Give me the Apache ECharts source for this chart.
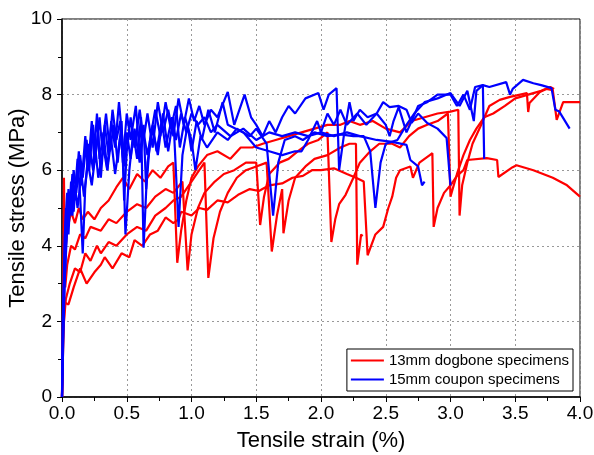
<!DOCTYPE html>
<html>
<head>
<meta charset="utf-8">
<script src="https://cdn.jsdelivr.net/npm/echarts@6/dist/echarts.min.js"></script>
<style>
  html, body { margin: 0; padding: 0; background: #fff; }
  #chart { width: 594px; height: 455px; }
</style>
</head>
<body>
<div id="chart"></div>
<script>
// tensile strain (%) vs tensile stress (MPa)
const xTicks = [0, 0.5, 1.0, 1.5, 2.0, 2.5, 3.0, 3.5, 4.0];
const yTicks = [0, 2, 4, 6, 8, 10];

const dogbone1 = [[0,0],[0.01,1.5],[0.02,2.5],[0.05,2.45],[0.09,2.9],[0.14,3.4],[0.19,3.0],[0.25,3.3],[0.3,3.5],[0.33,3.7],[0.39,3.4],[0.46,3.8],[0.52,3.7],[0.56,4.15],[0.62,4.0],[0.68,4.3],[0.74,4.4],[0.8,4.75],[0.86,4.6],[0.9,4.7],[0.92,4.9],[1.0,4.8],[1.06,5.0],[1.12,4.95],[1.2,5.2],[1.28,5.15],[1.36,5.35],[1.45,5.5],[1.52,5.45],[1.6,5.6],[1.7,5.65],[1.78,5.8],[1.86,5.85],[1.93,6.0],[2.0,6.0],[2.1,6.05],[2.2,5.9],[2.27,5.8],[2.33,5.7],[2.36,3.75],[2.42,4.3],[2.48,4.5],[2.52,5.0],[2.55,5.3],[2.58,5.8],[2.61,6.0],[2.69,6.1],[2.71,5.8],[2.76,6.2],[2.84,6.4],[2.86,6.45],[2.87,4.5],[2.9,5.0],[2.95,5.4],[3.0,5.6],[3.05,5.85],[3.1,6.0],[3.13,6.27],[3.28,6.32],[3.36,6.27],[3.37,5.82],[3.48,6.08],[3.51,6.13],[3.64,6.0],[3.79,5.8],[3.9,5.6],[4.0,5.3]];
const dogbone2 = [[0,0],[0.01,2.5],[0.02,3.6],[0.04,4.4],[0.07,4.9],[0.1,4.6],[0.13,5.0],[0.16,4.7],[0.2,4.9],[0.25,4.7],[0.3,5.0],[0.36,5.2],[0.42,5.55],[0.47,5.8],[0.52,5.5],[0.58,5.9],[0.64,5.7],[0.7,6.0],[0.76,5.8],[0.82,6.1],[0.86,6.2],[0.89,3.55],[0.92,4.4],[0.96,5.2],[1.0,5.8],[1.05,6.1],[1.12,6.4],[1.2,6.5],[1.3,6.3],[1.38,6.6],[1.47,6.6],[1.55,6.7],[1.65,6.8],[1.75,6.9],[1.85,7.0],[1.95,7.1],[2.05,7.2],[2.15,7.2],[2.22,7.3],[2.3,7.2],[2.4,7.3],[2.5,7.1],[2.61,7.0],[2.7,7.3],[2.8,7.4],[2.9,7.5],[3.0,7.55],[3.06,7.6],[3.07,4.8],[3.09,5.6],[3.13,6.2],[3.17,6.7],[3.23,7.15],[3.3,7.7],[3.38,7.86],[3.46,7.94],[3.59,8.04],[3.6,7.54],[3.61,7.78],[3.69,8.07],[3.74,8.15],[3.79,8.12],[3.82,7.33],[3.87,7.8],[4.0,7.8]];
const dogbone3 = [[0,0],[0.01,3.0],[0.015,5.8],[0.025,2.9],[0.04,3.5],[0.07,4.0],[0.1,3.9],[0.14,4.3],[0.18,4.2],[0.22,4.5],[0.3,4.4],[0.36,4.7],[0.42,4.6],[0.5,4.9],[0.58,5.1],[0.65,5.0],[0.72,5.3],[0.8,5.5],[0.86,5.4],[0.93,5.7],[0.97,3.35],[1.0,4.3],[1.05,5.0],[1.1,5.4],[1.18,5.7],[1.25,5.9],[1.33,6.0],[1.42,6.2],[1.5,6.2],[1.53,4.55],[1.56,5.3],[1.6,5.9],[1.68,6.2],[1.75,6.3],[1.82,6.5],[1.9,6.7],[1.98,6.8],[2.05,7.0],[2.08,4.1],[2.11,4.7],[2.14,5.1],[2.19,5.35],[2.25,5.8],[2.3,6.2],[2.38,6.5],[2.45,6.7],[2.55,6.7],[2.61,6.6],[2.68,6.9],[2.75,7.1],[2.82,7.2],[2.9,7.3],[2.98,7.5],[3.0,5.3],[3.05,5.9],[3.1,6.4],[3.15,6.8],[3.2,7.1],[3.26,7.4],[3.33,7.5],[3.42,7.7],[3.5,7.9],[3.6,8.0],[3.7,8.1],[3.77,8.2],[3.8,8.15]];
const dogbone4 = [[0,0],[0.01,1.8],[0.03,2.6],[0.06,3.0],[0.1,3.4],[0.14,3.3],[0.18,3.8],[0.22,3.6],[0.27,4.0],[0.3,3.8],[0.36,4.1],[0.42,4.0],[0.5,4.3],[0.58,4.5],[0.65,4.4],[0.72,4.8],[0.8,5.0],[0.86,5.2],[0.92,5.3],[1.0,5.7],[1.06,6.0],[1.1,6.2],[1.13,3.15],[1.17,4.2],[1.22,4.9],[1.28,5.4],[1.35,5.8],[1.42,6.0],[1.5,6.1],[1.58,6.2],[1.62,3.85],[1.66,4.8],[1.7,5.5],[1.71,4.33],[1.75,5.2],[1.8,5.8],[1.88,6.1],[1.95,6.3],[2.05,6.4],[2.15,6.6],[2.22,6.7],[2.27,6.7],[2.28,3.5],[2.31,4.3],[2.32,4.25]];

const coupon1 = [[0,0],[0.01,1.5],[0.02,3.0],[0.04,4.5],[0.06,5.2],[0.08,4.8],[0.1,5.6],[0.12,5.0],[0.15,5.9],[0.17,5.3],[0.2,6.2],[0.23,5.6],[0.26,6.5],[0.28,5.8],[0.32,6.6],[0.35,6.0],[0.38,6.8],[0.41,5.9],[0.45,6.9],[0.48,6.1],[0.5,7.0],[0.53,6.3],[0.56,7.1],[0.6,6.2],[0.63,7.0],[0.66,6.4],[0.7,7.2],[0.73,6.5],[0.77,7.3],[0.8,6.6],[0.85,7.4],[0.88,6.8],[0.92,7.5],[0.96,7.0],[1.0,7.5],[1.05,7.2],[1.1,7.4],[1.15,7.0],[1.2,7.2],[1.3,6.9],[1.4,7.1],[1.5,6.8],[1.6,7.0],[1.7,6.9],[1.8,7.0],[1.9,6.9],[2.0,7.0],[2.1,6.9],[2.2,7.0],[2.3,6.9],[2.43,6.8],[2.55,6.75],[2.66,6.67],[2.69,6.27],[2.75,6.1],[2.78,5.6],[2.8,5.7]];
const coupon2 = [[0,0],[0.01,2.0],[0.03,4.0],[0.05,5.5],[0.07,5.0],[0.09,6.0],[0.11,5.4],[0.14,6.4],[0.16,5.8],[0.19,6.8],[0.21,6.0],[0.24,7.2],[0.26,6.4],[0.29,7.4],[0.31,6.6],[0.34,7.5],[0.37,6.5],[0.4,7.2],[0.43,6.2],[0.46,7.3],[0.48,5.2],[0.5,6.5],[0.53,7.4],[0.56,6.6],[0.6,7.6],[0.63,6.8],[0.66,7.5],[0.7,6.6],[0.74,7.8],[0.78,7.0],[0.82,7.6],[0.86,6.9],[0.9,7.9],[0.94,7.2],[0.98,7.9],[1.02,7.3],[1.06,7.7],[1.1,7.2],[1.15,7.6],[1.2,7.4],[1.28,8.07],[1.33,7.2],[1.41,8.0],[1.46,7.4],[1.5,7.2],[1.55,6.9],[1.6,7.3],[1.65,7.0],[1.7,7.4],[1.75,7.7],[1.8,7.5],[1.88,7.9],[1.98,8.04],[2.02,7.6],[2.06,8.0],[2.12,8.17],[2.14,6.0],[2.18,7.0],[2.22,7.8],[2.25,7.3],[2.3,7.6],[2.36,7.4],[2.43,7.5],[2.48,7.8],[2.53,7.67],[2.6,7.7],[2.66,7.6],[2.7,7.25],[2.75,7.5],[2.82,7.25],[2.9,7.1],[2.97,6.85],[3.0,5.6]];
const coupon3 = [[0,0],[0.01,2.5],[0.02,4.2],[0.04,5.4],[0.06,4.8],[0.08,5.9],[0.1,5.2],[0.13,6.5],[0.15,5.6],[0.18,6.9],[0.2,6.0],[0.23,7.3],[0.25,6.2],[0.28,7.0],[0.3,5.8],[0.33,7.2],[0.36,6.4],[0.39,7.6],[0.42,6.8],[0.45,7.3],[0.47,6.2],[0.5,7.5],[0.53,6.8],[0.57,7.7],[0.6,6.4],[0.63,7.2],[0.65,5.5],[0.68,6.8],[0.72,7.6],[0.76,6.9],[0.8,7.8],[0.84,7.1],[0.88,7.7],[0.91,6.6],[0.95,7.4],[1.0,6.8],[1.03,6.0],[1.07,6.9],[1.12,6.6],[1.2,7.0],[1.28,6.8],[1.35,7.1],[1.45,6.9],[1.5,7.1],[1.58,6.7],[1.63,4.8],[1.67,6.2],[1.72,6.8],[1.8,6.9],[1.86,6.8],[1.95,7.0],[2.05,6.9],[2.15,6.95],[2.25,6.9],[2.33,6.9],[2.38,6.5],[2.42,5.0],[2.46,6.2],[2.5,6.7],[2.59,6.8],[2.66,7.2],[2.72,7.5],[2.8,7.8],[2.9,7.9],[3.0,8.04],[3.07,7.7],[3.13,8.1],[3.18,7.3],[3.2,8.1],[3.25,8.25],[3.3,8.2],[3.43,8.33],[3.46,8.0],[3.48,8.15],[3.56,8.39],[3.64,8.3],[3.7,8.25],[3.78,8.17],[3.81,7.6],[3.84,7.55],[3.92,7.1]];
const coupon4 = [[0,0],[0.005,2.0],[0.02,3.5],[0.03,5.0],[0.05,4.3],[0.07,5.7],[0.09,4.9],[0.12,6.3],[0.14,5.3],[0.16,3.8],[0.18,5.6],[0.21,6.7],[0.24,6.0],[0.27,7.5],[0.29,6.3],[0.32,7.0],[0.35,6.0],[0.38,7.3],[0.41,6.6],[0.44,7.8],[0.47,6.7],[0.49,4.3],[0.52,6.0],[0.55,7.0],[0.58,6.3],[0.61,7.4],[0.63,3.95],[0.66,6.2],[0.7,7.1],[0.74,6.4],[0.78,7.5],[0.82,6.5],[0.86,7.4],[0.9,4.5],[0.93,6.4],[0.97,7.2],[1.0,6.5],[1.04,7.3],[1.08,6.8],[1.13,7.6],[1.18,7.0],[1.24,7.8],[1.28,7.2],[1.4,7.0],[1.5,6.6],[1.6,6.5],[1.7,6.4],[1.8,6.5],[1.85,6.5],[1.9,6.8],[1.97,7.3],[2.0,7.0],[2.05,7.5],[2.1,7.2],[2.15,7.6],[2.2,7.2],[2.28,7.5],[2.35,7.2],[2.43,7.5],[2.5,7.2],[2.53,6.9],[2.56,7.3],[2.6,7.67],[2.66,7.0],[2.7,7.3],[2.75,7.7],[2.82,7.8],[2.9,8.0],[3.0,8.0],[3.05,7.7],[3.1,8.0],[3.15,7.6],[3.19,8.2],[3.25,8.25],[3.26,6.3]];

const redName = '13mm dogbone specimens';
const blueName = '15mm coupon specimens';
const font = 'Liberation Sans, Arial, sans-serif';

function curve(name, data, color) {
  return {
    name: name,
    type: 'line',
    data: data,
    symbol: 'none',
    lineStyle: { color: color, width: 2.2 },
    itemStyle: { color: color },
    emphasis: { disabled: true }
  };
}

const chart = echarts.init(document.getElementById('chart'));
chart.setOption({
  animation: false,
  backgroundColor: '#fff',
  grid: {
    left: 62, right: 14, top: 19, bottom: 58,
    containLabel: false, outerBoundsMode: 'none',
    show: true, borderColor: '#000', borderWidth: 1
  },
  legend: {
    data: [redName, blueName],
    orient: 'vertical',
    right: 21,
    top: 349,
    padding: [3, 4, 3, 4],
    icon: 'rect',
    itemWidth: 33,
    itemHeight: 2,
    itemGap: 2,
    borderColor: '#000',
    borderWidth: 1,
    backgroundColor: '#fff',
    textStyle: { fontFamily: font, fontSize: 15, color: '#000', lineHeight: 17 }
  },
  xAxis: {
    type: 'value',
    min: xTicks[0],
    max: xTicks[xTicks.length - 1],
    interval: 0.5,
    name: 'Tensile strain (%)',
    nameLocation: 'middle',
    nameGap: 33,
    nameMoveOverlap: false,
    nameTextStyle: { fontFamily: font, fontSize: 22, color: '#000' },
    axisLine: { lineStyle: { color: '#000', width: 1.5 } },
    axisTick: { inside: false, length: 5, lineStyle: { color: '#000' } },
    minorTick: { show: true, splitNumber: 2, length: 4, lineStyle: { color: '#000' } },
    axisLabel: { fontFamily: font, fontSize: 19, color: '#000', margin: 7, formatter: v => v.toFixed(1) },
    splitLine: { show: true, lineStyle: { color: '#999', type: [2, 3], width: 1 } }
  },
  yAxis: {
    type: 'value',
    min: yTicks[0],
    max: yTicks[yTicks.length - 1],
    interval: 2,
    name: 'Tensile stress (MPa)',
    nameLocation: 'middle',
    nameGap: 33,
    nameMoveOverlap: false,
    nameTextStyle: { fontFamily: font, fontSize: 22, color: '#000' },
    axisLine: { show: true, lineStyle: { color: '#000', width: 1.5 } },
    axisTick: { show: true, inside: false, length: 5, lineStyle: { color: '#000' } },
    minorTick: { show: true, splitNumber: 2, length: 4, lineStyle: { color: '#000' } },
    axisLabel: { fontFamily: font, fontSize: 19, color: '#000', margin: 10 },
    splitLine: { show: true, lineStyle: { color: '#999', type: [2, 3], width: 1 } }
  },
  series: [
    curve(redName, dogbone1, '#ff0000'),
    curve(redName, dogbone2, '#ff0000'),
    curve(redName, dogbone3, '#ff0000'),
    curve(redName, dogbone4, '#ff0000'),
    curve(blueName, coupon1, '#0000ff'),
    curve(blueName, coupon2, '#0000ff'),
    curve(blueName, coupon3, '#0000ff'),
    curve(blueName, coupon4, '#0000ff')
  ]
});
</script>
</body>
</html>
